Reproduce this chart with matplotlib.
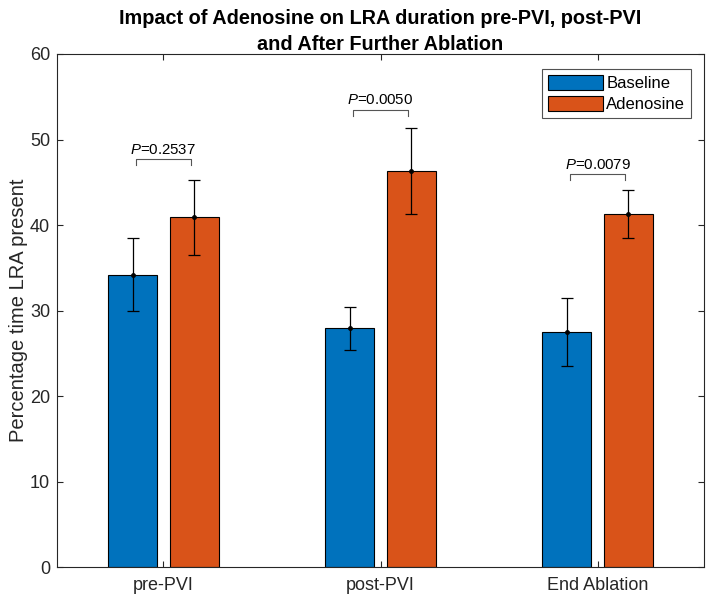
import matplotlib
matplotlib.use("Agg")
import matplotlib.pyplot as plt
import numpy as np

categories = ["pre-PVI", "post-PVI", "End Ablation"]
baseline = [34.2, 27.9, 27.5]
baseline_err = [4.3, 2.5, 4.0]
adenosine = [40.9, 46.3, 41.3]
adenosine_err = [4.35, 5.0, 2.85]
p_labels = ["0.2537", "0.0050", "0.0079"]
bracket_y = [47.7, 53.5, 46.0]

plt.rcParams['font.family'] = ['Liberation Sans', 'DejaVu Sans']
plt.rcParams['mathtext.fontset'] = 'custom'
plt.rcParams['mathtext.rm'] = 'Liberation Sans'
plt.rcParams['mathtext.it'] = 'Liberation Sans:italic'

axcol = '#262626'
fig = plt.figure(figsize=(7.09, 6.02), dpi=100)
ax = fig.add_axes([0.0804, 0.0581, 0.9126, 0.8522])

x = np.arange(1, len(categories) + 1)
off = 0.142
w = 0.227
blue = '#0072BD'
orange = '#D95319'
ax.bar(x - off, baseline, w, color=blue, edgecolor='black', linewidth=0.8, label='Baseline', zorder=2)
ax.bar(x + off, adenosine, w, color=orange, edgecolor='black', linewidth=0.8, label='Adenosine', zorder=2)
ax.errorbar(x - off, baseline, yerr=baseline_err, fmt='o', color='black', ms=2.5,
            capsize=4.3, elinewidth=0.9, capthick=0.9, zorder=3)
ax.errorbar(x + off, adenosine, yerr=adenosine_err, fmt='o', color='black', ms=2.5,
            capsize=4.3, elinewidth=0.9, capthick=0.9, zorder=3)

bw = 0.126
for xi, by, pl in zip(x, bracket_y, p_labels):
    ax.plot([xi - bw, xi - bw, xi + bw, xi + bw], [by - 0.7, by, by, by - 0.7],
            color='#555555', linewidth=0.8, zorder=3)
    ax.text(xi, by + 0.25, r'$P$=' + pl, ha='center', va='bottom', fontsize=10.8, color='black')

ax.set_xlim(0.51, 3.49)
ax.set_ylim(0, 60)
ax.set_yticks(range(0, 61, 10))
ax.set_xticks(x)
ax.set_xticklabels(categories)
ax.tick_params(axis='both', direction='in', colors=axcol, labelsize=13, length=4,
               top=True, right=True, width=0.8)
ax.tick_params(axis='x', pad=7)
ax.tick_params(axis='y', pad=5)
for s in ax.spines.values():
    s.set_color(axcol)
    s.set_linewidth(0.8)
ax.set_ylabel('Percentage time LRA present', fontsize=14.5, color=axcol, labelpad=1)
ax.set_title('Impact of Adenosine on LRA duration pre-PVI, post-PVI\nand After Further Ablation',
             fontsize=14.3, fontweight='bold', color='black', pad=3, linespacing=1.45)

leg = ax.legend(loc='upper right', bbox_to_anchor=(0.980, 0.971), fontsize=12, frameon=True,
                fancybox=False, edgecolor=axcol, handlelength=3.3, handleheight=1.0,
                handletextpad=0.2, borderpad=0.35, labelspacing=0.3, borderaxespad=0)
leg.get_frame().set_linewidth(0.8)

fig.savefig('out.png', dpi=100)
